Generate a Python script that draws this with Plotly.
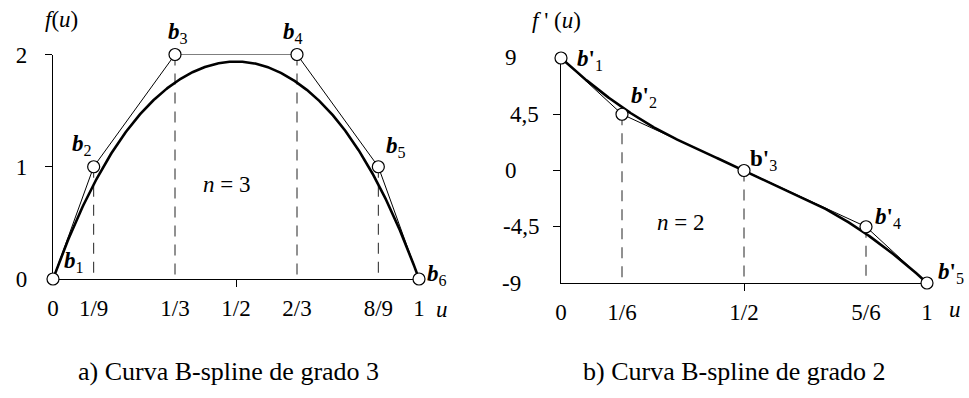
import numpy as np
import plotly.graph_objects as go

# ---- cubic B-spline f(u) ----
knots_f = [0, 0, 0, 0, 1/3, 2/3, 1, 1, 1, 1]
ctrl_u_f = [0, 1/9, 1/3, 2/3, 8/9, 1]
ctrl_f = [0, 1, 2, 2, 1, 0]
xticks_f = [0, 1/9, 1/3, 1/2, 2/3, 8/9, 1]
xtext_f = ["0", "1/9", "1/3", "1/2", "2/3", "8/9", "1"]
yticks_f = [0, 1, 2]
ytext_f = ["0", "1", "2"]

# ---- quadratic B-spline f'(u) (derivative) ----
knots_d = [0, 0, 0, 1/3, 2/3, 1, 1, 1]
ctrl_u_d = [0, 1/6, 1/2, 5/6, 1]
ctrl_d = [9, 4.5, 0, -4.5, -9]
xticks_d = [0, 1/6, 1/2, 5/6, 1]
xtext_d = ["0", "1/6", "1/2", "5/6", "1"]
yticks_d = [9, 4.5, 0, -4.5, -9]
ytext_d = ["9", "4,5", "0", "-4,5", "-9"]


def bspline_basis(knots, degree, u):
    """Cox-de Boor recursion; returns matrix of basis values (len(u) x n)."""
    t = np.asarray(knots, dtype=float)
    B = np.zeros((len(u), len(t) - 1))
    for i in range(len(t) - 1):
        B[:, i] = (t[i] <= u) & (u < t[i + 1])
    last = np.where(t < t[-1])[0][-1]
    B[u >= t[-1], last] = 1.0
    for k in range(1, degree + 1):
        Bn = np.zeros((len(u), len(t) - 1 - k))
        for i in range(len(t) - 1 - k):
            d1 = t[i + k] - t[i]
            d2 = t[i + k + 1] - t[i + 1]
            a = (u - t[i]) / d1 * B[:, i] if d1 > 0 else 0.0
            b = (t[i + k + 1] - u) / d2 * B[:, i + 1] if d2 > 0 else 0.0
            Bn[:, i] = a + b
        B = Bn
    return B


u = np.linspace(0, 1, 401)
curve_f = bspline_basis(knots_f, 3, u) @ np.array(ctrl_f, dtype=float)
curve_d = bspline_basis(knots_d, 2, u) @ np.array(ctrl_d, dtype=float)

FONT = "Liberation Serif, Times New Roman, Times, serif"
DASH = "11px,8px"

fig = go.Figure()

# vertical dashed guides from interior control points to the u axis
for uu, vv in zip(ctrl_u_f[1:-1], ctrl_f[1:-1]):
    fig.add_trace(go.Scatter(x=[uu, uu], y=[vv, 0], mode="lines",
                             line=dict(color="#222", width=1, dash=DASH),
                             xaxis="x", yaxis="y", hoverinfo="skip"))
for uu, vv in zip(ctrl_u_d[1:-1], ctrl_d[1:-1]):
    fig.add_trace(go.Scatter(x=[uu, uu], y=[vv, -9], mode="lines",
                             line=dict(color="#222", width=1, dash=DASH),
                             xaxis="x2", yaxis="y2", hoverinfo="skip"))

# control polygons
fig.add_trace(go.Scatter(x=ctrl_u_f, y=ctrl_f, mode="lines",
                         line=dict(color="black", width=1),
                         xaxis="x", yaxis="y", cliponaxis=False))
fig.add_trace(go.Scatter(x=ctrl_u_d, y=ctrl_d, mode="lines",
                         line=dict(color="black", width=1),
                         xaxis="x2", yaxis="y2", cliponaxis=False))

# B-spline curves
fig.add_trace(go.Scatter(x=u, y=curve_f, mode="lines",
                         line=dict(color="black", width=2.6),
                         xaxis="x", yaxis="y", cliponaxis=False))
fig.add_trace(go.Scatter(x=u, y=curve_d, mode="lines",
                         line=dict(color="black", width=2.6),
                         xaxis="x2", yaxis="y2", cliponaxis=False))

# control points
marker = dict(size=12, color="white", line=dict(color="black", width=1.2))
fig.add_trace(go.Scatter(x=ctrl_u_f, y=ctrl_f, mode="markers", marker=marker,
                         xaxis="x", yaxis="y", cliponaxis=False))
fig.add_trace(go.Scatter(x=ctrl_u_d, y=ctrl_d, mode="markers", marker=marker,
                         xaxis="x2", yaxis="y2", cliponaxis=False))

W, H = 969, 398


def px(x):
    return x / W


def py(y):
    return (H - y) / H


def note(text, x, y, size=23, xanchor="center", **kw):
    d = dict(text=text, x=x, y=y, showarrow=False, xanchor=xanchor,
             yanchor="middle", font=dict(family=FONT, size=size, color="black"))
    d.setdefault("xref", "paper")
    d.setdefault("yref", "paper")
    d.update(kw)
    return d


ann = []

# control point labels (pixel offsets from the point)
off_f = [(21, -17), (-12, -22), (3, -22), (-4, -22), (18, -20), (18, -4)]
for i, (uu, vv, (dx, dy)) in enumerate(zip(ctrl_u_f, ctrl_f, off_f)):
    ann.append(note(f"<b><i>b</i></b><sub>{i + 1}</sub>", uu, vv, size=23,
                    xref="x", yref="y", xshift=dx, yshift=-dy))
off_d = [(29, 2), (22, -17), (19, -11), (22, -9), (24, -10)]
for i, (uu, vv, (dx, dy)) in enumerate(zip(ctrl_u_d, ctrl_d, off_d)):
    b = "<b>b'</b>" if i == 2 else "<b><i>b</i>'</b>"
    ann.append(note(f"{b}<sub>{i + 1}</sub>", uu, vv, size=23,
                    xref="x2", yref="y2", xshift=dx, yshift=-dy))

# right-hand y tick labels
ylab_pos = {"9": ("center", 511), "4,5": ("right", 541), "0": ("center", 511),
            "-4,5": ("right", 541), "-9": ("center", 511)}
for val, txt in zip(yticks_d, ytext_d):
    anchor, xx = ylab_pos[txt]
    ann.append(note(txt, px(xx), val, xanchor=anchor, yref="y2"))

# axis names
ann.append(note("<i>f</i>(<i>u</i>)", px(61), py(19)))
ann.append(note("<i>f</i> ' (<i>u</i>)", px(556), py(20)))
ann.append(note("<i>u</i>", px(442), py(309)))
ann.append(note("<i>u</i>", px(955), py(309)))

# degree labels
ann.append(note("<i>n</i> = 3", px(226), py(185)))
ann.append(note("<i>n</i> = 2", px(680), py(222)))

# captions
ann.append(note("a) Curva B-spline de grado 3", px(228), py(371), size=26))
ann.append(note("b) Curva B-spline de grado 2", px(734), py(371), size=26))

axis_common = dict(showgrid=False, zeroline=False, showline=True,
                   linecolor="black", linewidth=1.3, layer="below traces",
                   tickfont=dict(family=FONT, size=23, color="black"),
                   fixedrange=True, automargin=False)

fig.update_layout(
    width=W, height=H, autosize=False, margin=dict(l=0, r=0, t=0, b=0, pad=0),
    paper_bgcolor="white", plot_bgcolor="white", showlegend=False,
    font=dict(family=FONT, color="black"),
    xaxis=dict(domain=[px(53), px(419)], range=[0, 1], anchor="y",
               tickmode="array", tickvals=xticks_f, ticktext=xtext_f,
               ticks="", ticklabelstandoff=8,
               minor=dict(tickmode="array", tickvals=[0.5], ticks="outside",
                          ticklen=7, tickcolor="black", tickwidth=1.2),
               **axis_common),
    yaxis=dict(domain=[py(279), py(54.5)], range=[0, 2], anchor="x",
               tickmode="array", tickvals=yticks_f, ticktext=ytext_f,
               ticks="", ticklabelstandoff=20,
               minor=dict(tickmode="array", tickvals=[1, 2], ticks="outside",
                          ticklen=7, tickcolor="black", tickwidth=1.2),
               **axis_common),
    xaxis2=dict(domain=[px(561), px(927)], range=[0, 1], anchor="y2",
                tickmode="array", tickvals=xticks_d, ticktext=xtext_d,
                ticks="", ticklabelstandoff=8,
                minor=dict(tickmode="array", tickvals=[0.5], ticks="outside",
                           ticklen=7, tickcolor="black", tickwidth=1.2),
                **axis_common),
    yaxis2=dict(domain=[py(283), py(58)], range=[-9, 9], anchor="x2",
                tickmode="array", tickvals=[-4.5, 0, 4.5],
                showticklabels=False, ticks="outside", ticklen=7,
                tickcolor="black", tickwidth=1.2,
                **axis_common),
    annotations=ann,
)

fig.write_html("out.html", config={"displayModeBar": False},
               post_script="document.body.style.margin='0';")
